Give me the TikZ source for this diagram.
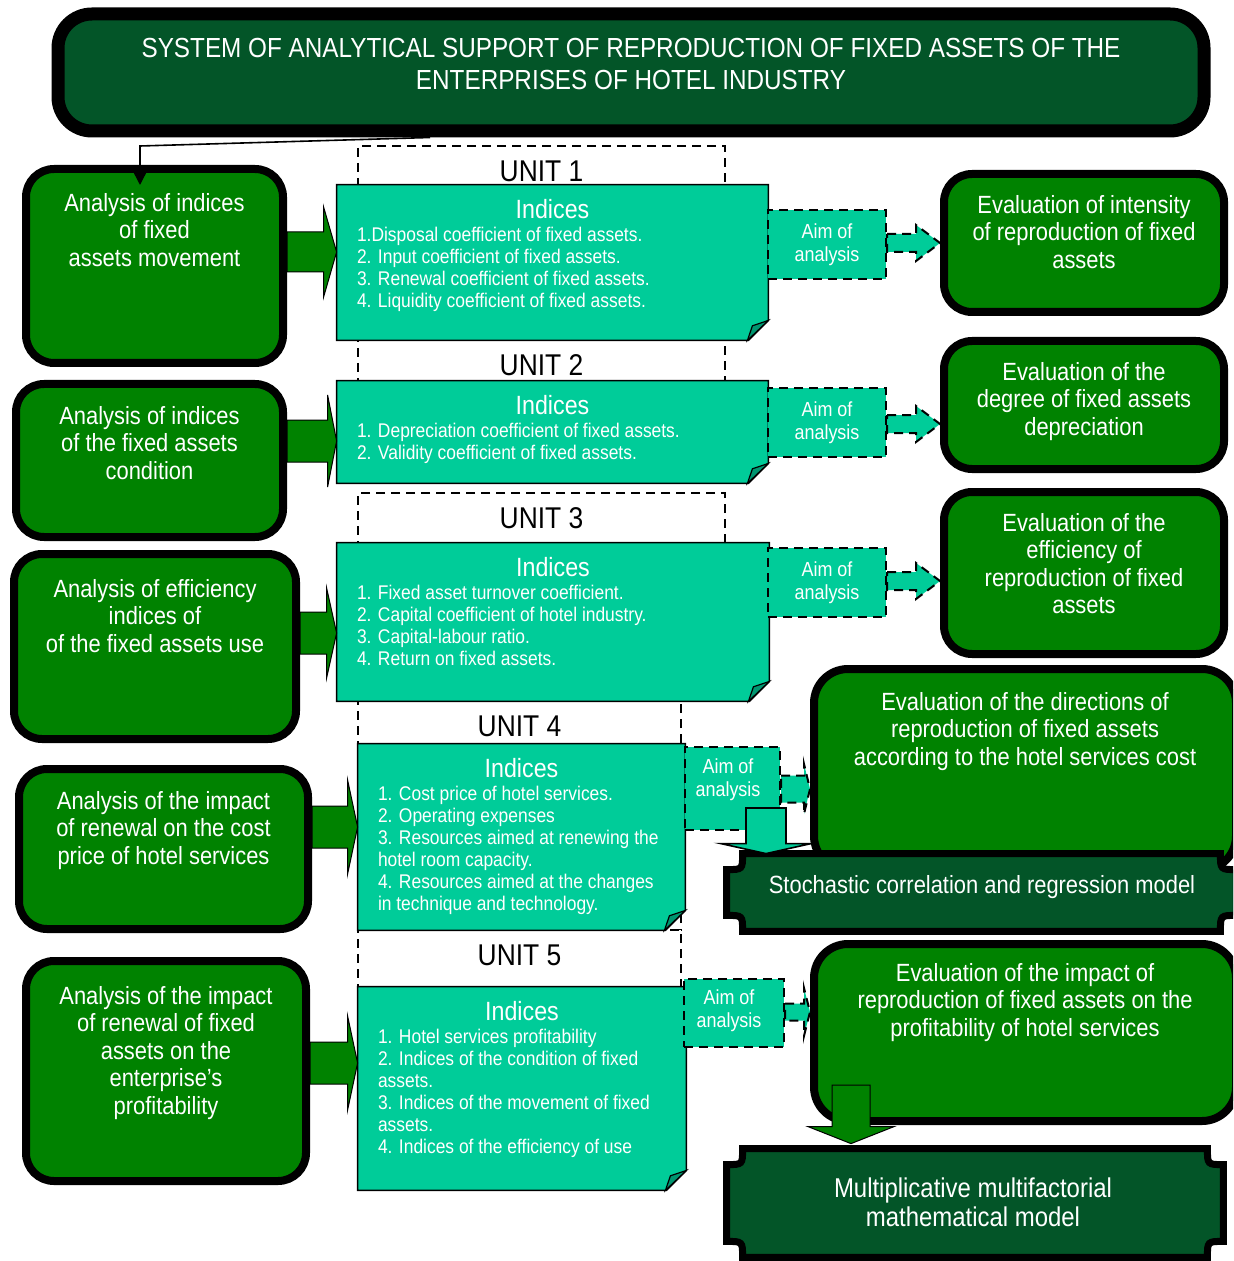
\documentclass[tikz,border=0pt]{standalone}
\usepackage{fontspec}
\setmainfont{Liberation Sans}[FakeStretch=0.88]
\usetikzlibrary{calc,arrows.meta}

\definecolor{titlegreen}{RGB}{3,85,40}
\definecolor{boxgreen}{RGB}{0,130,0}
\definecolor{indteal}{RGB}{0,204,153}
\definecolor{foldteal}{RGB}{0,150,112}

\tikzset{
  boxsize/.style 2 args={minimum width=#1*0.5pt, minimum height=#2*0.5pt},
  gbox/.style={draw=black, fill=boxgreen, line width=4pt, rounded corners=14pt, inner sep=0pt},
  gtxt/.style={text=white, align=center, inner sep=0pt, anchor=north, font=\fontsize{12.45}{13.75}\selectfont},
  unitbox/.style={draw=black, fill=white, line width=1pt, dash pattern=on 4.5pt off 3pt, inner sep=0pt},
  unitlab/.style={inner sep=0pt, font=\fontsize{15}{17}\selectfont},
  ipoly/.style={draw=black, fill=indteal, line width=0.8pt},
  fold/.style={draw=black, fill=foldteal, line width=0.6pt},
  ihead/.style={text=white, inner sep=0pt, font=\fontsize{13.2}{15}\selectfont},
  itxt/.style={text=white, align=left, inner sep=0pt, anchor=north west, font=\fontsize{9.9}{11}\selectfont},
  aim/.style={draw=black, fill=indteal, line width=1pt, dash pattern=on 4.5pt off 3pt, text=white, align=center, inner sep=0pt, font=\fontsize{10.2}{11.5}\selectfont},
  aimtxt/.style={text=white, align=center, inner sep=0pt, font=\fontsize{10.2}{11.5}\selectfont},
  aimarr/.style={draw=black, fill=indteal, line width=1pt, dash pattern=on 4.5pt off 3pt},
  downarr/.style={draw=black, fill=indteal, line width=0.8pt},
  blockarr/.style={draw=black, fill=boxgreen, line width=0.5pt},
  plaq/.style={draw=black, fill=titlegreen, line width=3.5pt},
  ptxt/.style={text=white, align=center, inner sep=0pt},
  conn/.style={draw=black, line width=0.8pt, -{Triangle[width=7pt,length=7pt]}},
}

% block arrow to the right: style, start, tip, shaft half, head half, head length (px)
\newcommand{\rarrow}[6]{%
  \path[#1] let \p1=(#2), \p2=(#3) in
    (\x1,\y2+#4*0.5pt) -- (\x2-#6*0.5pt,\y2+#4*0.5pt) -- (\x2-#6*0.5pt,\y2+#5*0.5pt)
    -- (\x2,\y2) -- (\x2-#6*0.5pt,\y2-#5*0.5pt) -- (\x2-#6*0.5pt,\y2-#4*0.5pt)
    -- (\x1,\y2-#4*0.5pt) -- cycle;}
% block arrow downwards
\newcommand{\darrow}[6]{%
  \path[#1] let \p1=(#2), \p2=(#3) in
    (\x2-#4*0.5pt,\y1) -- (\x2-#4*0.5pt,\y2+#6*0.5pt) -- (\x2-#5*0.5pt,\y2+#6*0.5pt)
    -- (\x2,\y2) -- (\x2+#5*0.5pt,\y2+#6*0.5pt) -- (\x2+#4*0.5pt,\y2+#6*0.5pt)
    -- (\x2+#4*0.5pt,\y1) -- cycle;}
% indices sheet with folded corner
\newcommand{\foldbox}[1]{%
  \draw[ipoly] (#1.north west) -- (#1.north east) -- ([yshift=10pt]#1.south east)
    -- ([xshift=-10pt]#1.south east) -- (#1.south west) -- cycle;
  \draw[fold] ([yshift=10pt]#1.south east) -- ([xshift=-8pt,yshift=7.3pt]#1.south east)
    -- ([xshift=-10.5pt]#1.south east) -- cycle;}
% plaque with hollow corners
\newcommand{\plaque}[2]{%
  \draw[plaq] let \p1=(#1.north west), \p2=(#1.south east) in
    (\x1+#2*0.5pt,\y1) -- (\x2-#2*0.5pt,\y1)
    .. controls (\x2-#2*0.5pt,\y1-#2*0.5pt) .. (\x2,\y1-#2*0.5pt)
    -- (\x2,\y2+#2*0.5pt)
    .. controls (\x2-#2*0.5pt,\y2+#2*0.5pt) .. (\x2-#2*0.5pt,\y2)
    -- (\x1+#2*0.5pt,\y2)
    .. controls (\x1+#2*0.5pt,\y2+#2*0.5pt) .. (\x1,\y2+#2*0.5pt)
    -- (\x1,\y1-#2*0.5pt)
    .. controls (\x1+#2*0.5pt,\y1-#2*0.5pt) .. (\x1+#2*0.5pt,\y1) -- cycle;}

\begin{document}
\begin{tikzpicture}[x=0.5pt,y=-0.5pt]
  \path[use as bounding box] (0,0) rectangle (1233,1261);
  \clip (0,0) rectangle (1233,1261);

  % title
  \node[draw=black, fill=titlegreen, line width=6.5pt, rounded corners=17pt, boxsize={1146}{117}] (title) at (631,72.5) {};
  \node[text=white, align=center, inner sep=0pt, anchor=north, font=\fontsize{13.8}{16}\selectfont] (titlet) at ($(title.north)+(0,30)$)
    {SYSTEM OF ANALYTICAL SUPPORT OF REPRODUCTION OF FIXED ASSETS OF THE\\ENTERPRISES OF HOTEL INDUSTRY};

  % units
  \node[unitbox, boxsize={367}{194}] (u1) at (541.5,243) {};
  \node[unitbox, boxsize={367}{143}] (u2) at (541.5,411.5) {};
  \node[unitbox, boxsize={367}{208}] (u3) at (541.5,597) {};
  \node[unitbox, boxsize={323}{229}] (u4) at (519.5,815.5) {};
  \node[unitbox, boxsize={323}{80}] (u5) at (519.5,970) {};
  \foreach \u in {1,...,5}
    \node[unitlab] (u\u l) at ($(u\u.north)+(0,26)$) {UNIT \u};

  % indices
  \node[boxsize={431}{155}, inner sep=0pt] (ind1) at (552.5,262.5) {};
  \node[boxsize={431}{102}, inner sep=0pt] (ind2) at (552.5,432) {};
  \node[boxsize={432}{158}, inner sep=0pt] (ind3) at (553,622) {};
  \node[boxsize={327}{186}, inner sep=0pt] (ind4) at (521.5,837) {};
  \node[boxsize={328}{203}, inner sep=0pt] (ind5) at (522,1088.5) {};
  \foreach \i in {1,...,5}{
    \foldbox{ind\i}
    \node[ihead] (h\i) at ($(ind\i.north)+(0,24)$) {Indices};
  }
  \node[itxt] (t1) at ($(ind1.north west)+(20,42)$) {1.Disposal coefficient of fixed assets.\\2. Input coefficient of fixed assets.\\3. Renewal coefficient of fixed assets.\\4. Liquidity coefficient of fixed assets.};
  \node[itxt] (t2) at ($(ind2.north west)+(20,42)$) {1. Depreciation coefficient of fixed assets.\\2. Validity coefficient of fixed assets.};
  \node[itxt] (t3) at ($(ind3.north west)+(20,42)$) {1. Fixed asset turnover coefficient.\\2. Capital coefficient of hotel industry.\\3. Capital-labour ratio.\\4. Return on fixed assets.};
  \node[itxt] (t4) at ($(ind4.north west)+(20,42)$) {1. Cost price of hotel services.\\2. Operating expenses\\3. Resources aimed at renewing the\\hotel room capacity.\\4. Resources aimed at the changes\\in technique and technology.};
  \node[itxt] (t5) at ($(ind5.north west)+(20,42)$) {1. Hotel services profitability\\2. Indices of the condition of fixed\\assets.\\3. Indices of the movement of fixed\\assets.\\4. Indices of the efficiency of use};

  % left boxes
  \node[gbox, boxsize={257}{194}] (l1) at (154.5,266) {};
  \node[gbox, boxsize={267}{153}] (l2) at (149.5,460.5) {};
  \node[gbox, boxsize={282}{185}] (l3) at (155,646.5) {};
  \node[gbox, boxsize={289}{160}] (l4) at (163.5,849) {};
  \node[gbox, boxsize={280}{220}] (l5) at (166,1071) {};
  \node[gtxt] (l1t) at ($(l1.north)+(0,28)$) {Analysis of indices\\of fixed\\assets movement};
  \node[gtxt] (l2t) at ($(l2.north)+(0,26)$) {Analysis of indices\\of the fixed assets\\condition};
  \node[gtxt] (l3t) at ($(l3.north)+(0,29)$) {Analysis of efficiency\\indices of\\of the fixed assets use};
  \node[gtxt] (l4t) at ($(l4.north)+(0,26)$) {Analysis of the impact\\of renewal on the cost\\price of hotel services};
  \node[gtxt] (l5t) at ($(l5.north)+(0,29)$) {Analysis of the impact\\of renewal of fixed\\assets on the\\enterprise's\\profitability};

  \draw[conn] (title.south -| 430,0) -- (140,146) -- ($(l1.north -| 140,0)+(0,20)$);

  \rarrow{blockarr}{l1.east |- 0,252}{ind1.west |- 0,252}{20}{45}{13}
  \rarrow{blockarr}{l2.east |- 0,441}{ind2.west |- 0,441}{21}{46}{9}
  \rarrow{blockarr}{l3.east |- 0,633}{ind3.west |- 0,633}{21}{45}{10}
  \rarrow{blockarr}{l4.east |- 0,827}{ind4.west |- 0,827}{21}{47}{10}
  \rarrow{blockarr}{l5.east |- 0,1063}{ind5.west |- 0,1063}{21}{47}{10}

  % aims
  \node[aim, boxsize={118}{69}] (aim1) at (827,244.5) {Aim of\\analysis};
  \node[aim, boxsize={118}{69}] (aim2) at (827,422.5) {Aim of\\analysis};
  \node[aim, boxsize={118}{69}] (aim3) at (827,582.5) {Aim of\\analysis};
  \node[aim, boxsize={95}{83}] (aim4) at (732.5,788.5) {};
  \node[aimtxt] (aim4t) at (728,780) {Aim of\\analysis};
  \node[aim, boxsize={100}{68}] (aim5) at (734,1013) {};
  \node[aimtxt] (aim5t) at (729,1011) {Aim of\\analysis};

  % right boxes
  \node[gbox, boxsize={280}{138}] (r1) at (1084,243) {};
  \node[gbox, boxsize={280}{128}] (r2) at (1084,405) {};
  \node[gbox, boxsize={280}{162}] (r3) at (1084,573) {};
  \node[gbox, boxsize={422}{201}, rounded corners=17pt] (r4) at (1025,769.5) {};
  \node[gtxt] (r1t) at ($(r1.north)+(0,25)$) {Evaluation of intensity\\of reproduction of fixed\\assets};
  \node[gtxt] (r2t) at ($(r2.north)+(0,25)$) {Evaluation of the\\degree of fixed assets\\depreciation};
  \node[gtxt] (r3t) at ($(r3.north)+(0,25)$) {Evaluation of the\\efficiency of\\reproduction of fixed\\assets};
  \node[gtxt] (r4t) at ($(r4.north)+(0,27)$) {Evaluation of the directions of\\reproduction of fixed assets\\according to the hotel services cost};

  \rarrow{aimarr}{aim1.east |- 0,243}{r1.west |- 0,243}{9}{18}{24}
  \rarrow{aimarr}{aim2.east |- 0,424}{r2.west |- 0,424}{9}{18}{24}
  \rarrow{aimarr}{aim3.east |- 0,581}{r3.west |- 0,581}{9}{18}{24}
  \rarrow{aimarr}{aim4.east |- 0,789}{r4.west |- 0,789}{13.5}{25}{6}

  % models
  \node[boxsize={509}{77}, inner sep=0pt] (sto) at (981.5,892.5) {};
  \plaque{sto}{16}
  \node[ptxt, font=\fontsize{12.45}{14}\selectfont] (stot) at (982,887) {Stochastic correlation and regression model};

  \darrow{downarr}{$(aim4.south -| 766,0)+(0,-23)$}{sto.north -| 766,0}{20}{45}{10}

  \node[gbox, boxsize={422}{177}, rounded corners=17pt] (r5) at (1025,1032.5) {};
  \node[gtxt] (r5t) at ($(r5.north)+(0,23)$) {Evaluation of the impact of\\reproduction of fixed assets on the\\profitability of hotel services};
  \rarrow{aimarr}{aim5.east |- 0,1012}{r5.west |- 0,1012}{8.5}{24}{6}

  \node[boxsize={496}{108}, inner sep=0pt] (mult) at (975,1203) {};
  \plaque{mult}{16}
  \node[ptxt, font=\fontsize{13.6}{14.5}\selectfont] (multt) at (973,1202.5) {Multiplicative multifactorial\\mathematical model};

  \darrow{blockarr}{$(r5.south -| 851,0)+(0,-40)$}{$(mult.north -| 851,0)+(0,-5)$}{19}{43}{17}
\end{tikzpicture}
\end{document}
